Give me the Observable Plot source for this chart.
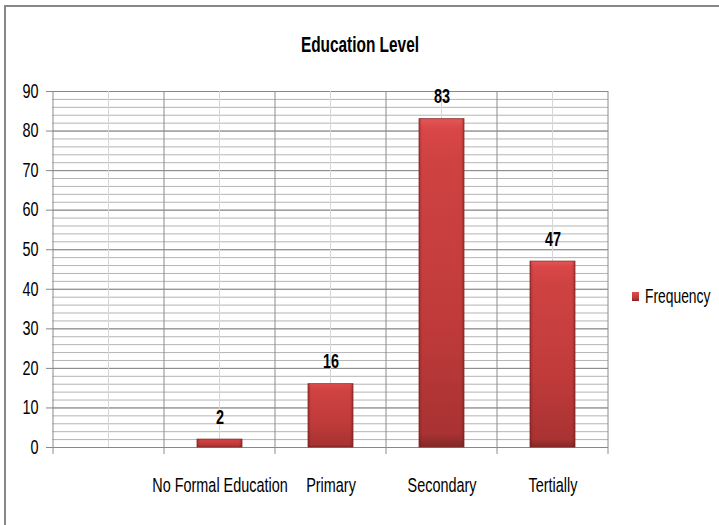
<!DOCTYPE html>
<html>
<head>
<meta charset="utf-8">
<script src="https://cdn.jsdelivr.net/npm/d3@7"></script>
<script src="https://cdn.jsdelivr.net/npm/@observablehq/plot@0.6"></script>
<style>
  body { margin: 0; background: #fff; overflow: hidden; }
  #wrap {
    position: relative; width: 719px; height: 525px;
    font-family: "Liberation Sans", Arial, sans-serif;
    color: #000;
  }
  #frame {
    position: absolute; left: 4px; top: 5px; width: 760px; height: 560px;
    border-top: 2px solid #878787; border-left: 2px solid #878787;
  }
  #chart { position: absolute; left: 0; top: 0; }
  #title {
    position: absolute; left: 0; top: 31px; width: 719px; line-height: 28px;
    text-align: center; font-weight: bold; font-size: 22px;
    transform: scaleX(0.70); transform-origin: 361px 0;
  }
  #legend {
    position: absolute; left: 632px; top: 284px; line-height: 24px;
    font-size: 19.5px; display: flex; align-items: center; white-space: nowrap;
  }
  #legend .swatch {
    display: inline-block; width: 7px; height: 9px; margin-right: 6px;
    background: linear-gradient(#e04d4d, #b83737 70%, #7e2626);
  }
  #legend-label { display: inline-block; transform: scaleX(0.71); transform-origin: 0 0; }
</style>
</head>
<body>
<div id="wrap">
  <div id="frame"></div>
  <div id="chart"></div>
  <div id="title">Education Level</div>
  <div id="legend"><span class="swatch"></span><span id="legend-label"></span></div>
</div>
<script>
// Education level survey: frequency per category (first category slot is blank)
const categories = ["", "No Formal Education", "Primary", "Secondary", "Tertially"];
const frequency = [null, 2, 16, 83, 47];
const seriesName = "Frequency";
const yTicks = [0, 10, 20, 30, 40, 50, 60, 70, 80, 90];
const yMinorStep = 2;

const bars = categories
  .map((category, i) => ({category, frequency: frequency[i]}))
  .filter(d => d.frequency != null);

const yMinor = d3.range(yTicks[0], yTicks[yTicks.length - 1] + 1, yMinorStep);

document.getElementById("legend-label").textContent = seriesName;

// Vertical grid: light lines through category centres, darker lines at band edges
function verticalGrid(index, scales) {
  const x = scales.x, y = scales.y;
  const bw = typeof x.bandwidth === "function" ? x.bandwidth() : 0;
  const step = x(categories[1]) - x(categories[0]);
  const centers = categories.map(c => x(c) + bw / 2);
  const edges = centers.map(c => c - step / 2).concat([centers[centers.length - 1] + step / 2]);
  const top = y(yTicks[yTicks.length - 1]), bottom = y(0);
  const g = d3.create("svg:g");
  g.selectAll("line.c").data(centers).join("line")
    .attr("x1", d => d).attr("x2", d => d)
    .attr("y1", top).attr("y2", bottom)
    .attr("stroke", "#d6d6d6");
  g.selectAll("line.e").data(edges).join("line")
    .attr("x1", d => d).attr("x2", d => d)
    .attr("y1", top).attr("y2", bottom + 7)
    .attr("stroke", "#8c8c8c");
  return g.node();
}

// Narrow every SVG label horizontally around its own anchor point
function condense(root, k) {
  root.querySelectorAll("text").forEach(t => {
    const tr = t.getAttribute("transform") || "";
    const x = parseFloat(t.getAttribute("x")) || 0;
    t.setAttribute("transform", `${tr} translate(${x},0) scale(${k},1) translate(${-x},0)`);
  });
}

const font = `"Liberation Sans", Arial, sans-serif`;

const chart = Plot.plot({
  width: 719,
  height: 525,
  marginLeft: 52,
  marginRight: 111,
  marginTop: 91,
  marginBottom: 78,
  style: {fontFamily: font, fontSize: "19.5px", background: "transparent", color: "#000", overflow: "visible"},
  x: {type: "band", domain: categories, paddingInner: 0.595, paddingOuter: 0.2975, label: null},
  y: {domain: [0, 90], label: null},
  marks: [
    Plot.ruleY(yMinor, {stroke: "#b4b4b4", strokeWidth: 1}),
    Plot.ruleY(yTicks, {stroke: "#888888", strokeWidth: 1}),
    verticalGrid,
    Plot.barY(bars, {x: "category", y: "frequency", fill: "url(#barFill)", stroke: "#8a2a2a", strokeWidth: 0.8}),
    Plot.barY(bars, {x: "category", y: "frequency", fill: "url(#barSides)"}),
    Plot.text(bars, {x: "category", y: "frequency", text: d => String(d.frequency), dy: -22, fontWeight: "bold", fontSize: 19.5}),
    Plot.axisY({ticks: yTicks, tickSize: 6, tickPadding: 8, stroke: "#888888", fill: "#000", fontSize: 19.5}),
    Plot.axisX({tickSize: 0, tickPadding: 31, fill: "#000", fontSize: 19.5})
  ]
});

d3.select(chart).insert("defs", ":first-child").html(`
  <linearGradient id="barFill" x1="0" y1="0" x2="0" y2="1">
    <stop offset="0" stop-color="#e65656"/>
    <stop offset="0.03" stop-color="#d94747"/>
    <stop offset="0.12" stop-color="#cf4242"/>
    <stop offset="0.6" stop-color="#c13b3b"/>
    <stop offset="0.96" stop-color="#a93232"/>
    <stop offset="1" stop-color="#822828"/>
  </linearGradient>
  <linearGradient id="barSides" x1="0" y1="0" x2="1" y2="0">
    <stop offset="0" stop-color="#5a1414" stop-opacity="0.35"/>
    <stop offset="0.07" stop-color="#5a1414" stop-opacity="0"/>
    <stop offset="0.93" stop-color="#5a1414" stop-opacity="0"/>
    <stop offset="1" stop-color="#5a1414" stop-opacity="0.35"/>
  </linearGradient>
`);

condense(chart, 0.74);

document.getElementById("chart").appendChild(chart);
</script>
</body>
</html>
